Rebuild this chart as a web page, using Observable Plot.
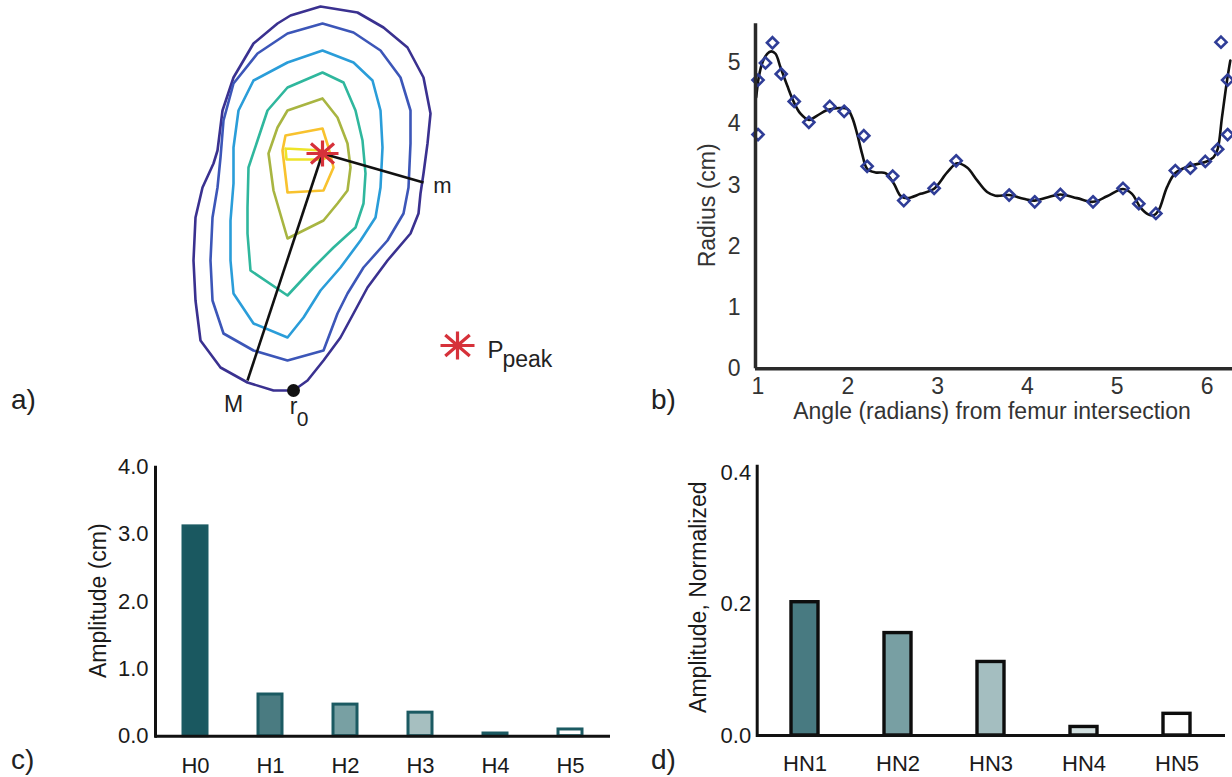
<!DOCTYPE html>
<html>
<head>
<meta charset="utf-8">
<script src="https://cdn.jsdelivr.net/npm/d3@7"></script>
<script src="https://cdn.jsdelivr.net/npm/@observablehq/plot@0.6"></script>
<style>
  body { margin: 0; background: #fff; }
  #fig { position: relative; width: 1232px; height: 777px; overflow: hidden; background: #fff;
         font-family: "Liberation Sans", Arial, Helvetica, sans-serif; }
  .panel { position: absolute; }
  .panel svg { display: block; }
  .plab { position: absolute; font-size: 28px; line-height: 28px; color: #222; }
  #pb g[aria-label$="tick label"] { font-size: 23px !important; }
  #pc g[aria-label$="tick label"], #pd g[aria-label$="tick label"] { font-size: 22px !important; }
</style>
</head>
<body>
<div id="fig"></div>
<script>
const FONT = '"Liberation Sans", Arial, Helvetica, sans-serif';

// ---------- Panel a: contour map (image units) ----------
const contourColors = ["#3a3190", "#3c56b8", "#2a9dd9", "#2fb79d", "#a8b541", "#f8c22e", "#eee428"];
const contour1 = [[290,15],[320,6],[357,12],[383,27],[407,47],[423,77],[430,113],[427,143],[423,173],[420,193],[418,213],[410,233],[387,260],[367,287],[353,313],[340,337],[323,360],[307,380],[293,390],[273,390],[247,382],[220,367],[200,340],[195,300],[193,260],[195,217],[202,187],[213,163],[217,150],[222,110],[233,77],[253,43],[277,23]];
const contour2 = [[322,23],[353,32],[380,50],[400,77],[410,110],[410,143],[408,187],[403,213],[387,240],[363,267],[347,293],[337,313],[323,350],[287,360],[253,350],[223,333],[212,300],[210,260],[212,217],[217,187],[220,157],[223,120],[233,83],[257,53],[287,33]];
const contour3 = [[322,50],[353,62],[372,80],[380,110],[382,147],[380,187],[375,217],[360,240],[340,267],[320,290],[303,317],[287,337],[253,323],[233,293],[230,260],[230,220],[233,183],[233,147],[238,110],[253,80],[287,62]];
const contour4 = [[322,72],[343,82],[355,110],[362,140],[365,173],[363,203],[355,227],[333,247],[313,267],[287,295],[250,270],[247,233],[247,207],[248,167],[257,140],[267,110],[287,87]];
const contour5 = [[322,98],[337,117],[347,143],[350,167],[347,190],[337,203],[323,220],[287,238],[273,190],[268,153],[277,127],[287,110]];
const contour6 = [[285,135],[322,128],[328,147],[333,167],[323,190],[287,192],[282,150]];
const contour7 = [[285,148],[322,150],[328,156],[322,159],[286,159]];
const contours = [contour1, contour2, contour3, contour4, contour5, contour6, contour7];
const peak = [322, 153];
const radiusEnds = [{label: "m", pt: [423, 182]}, {label: "M", pt: [247, 380]}];
const r0Point = [293, 390];
const legendStar = [457, 345];

// ---------- Panel b: radius vs angle ----------
const measAngle  = [1.00,1.00,1.083,1.161,1.258,1.403,1.566,1.799,1.959,2.178,2.215,2.50,2.623,2.961,3.206,3.796,4.081,4.367,4.73,5.064,5.24,5.43,5.647,5.814,5.98,6.118,6.155,6.229,6.229];
const measRadius = [3.83,4.72,5.00,5.33,4.82,4.37,4.03,4.29,4.21,3.81,3.31,3.15,2.75,2.95,3.40,2.84,2.73,2.85,2.73,2.95,2.70,2.54,3.24,3.28,3.39,3.59,5.34,4.72,3.83];
const fitAngle  = [0.98,1.009,1.047,1.102,1.147,1.195,1.25,1.325,1.399,1.473,1.566,1.659,1.77,1.881,1.993,2.048,2.104,2.16,2.215,2.308,2.419,2.512,2.586,2.661,2.809,2.957,3.106,3.217,3.328,3.44,3.551,3.643,3.796,3.958,4.081,4.218,4.367,4.552,4.73,4.886,5.064,5.164,5.257,5.35,5.406,5.461,5.554,5.647,5.814,5.98,6.073,6.118,6.166,6.222,6.259];
const fitRadius = [4.44,4.77,5.0,5.15,5.19,5.15,4.93,4.63,4.36,4.17,4.07,4.14,4.23,4.26,4.25,4.11,3.84,3.51,3.27,3.21,3.20,3.03,2.83,2.79,2.86,2.94,3.21,3.36,3.29,3.08,2.89,2.83,2.84,2.78,2.75,2.80,2.85,2.79,2.73,2.82,2.94,2.86,2.64,2.52,2.51,2.59,2.97,3.20,3.32,3.38,3.46,3.59,4.11,4.71,5.04];
const angleTicks = [1, 2, 3, 4, 5, 6];
const radiusTicks = [0, 1, 2, 3, 4, 5];

// ---------- Panel c: harmonic amplitudes ----------
const harmonics = ["H0", "H1", "H2", "H3", "H4", "H5"];
const amplitudes = [3.12, 0.62, 0.47, 0.35, 0.04, 0.10];
const harmonicFills = ["#1a5860", "#4a7b81", "#78a0a3", "#a6bfc0", "#cfdedf", "#ffffff"];
const amplitudeTicks = [0, 1, 2, 3, 4];

// ---------- Panel d: normalized amplitudes ----------
const normHarmonics = ["HN1", "HN2", "HN3", "HN4", "HN5"];
const normAmplitudes = [0.203, 0.156, 0.112, 0.013, 0.033];
const normFills = ["#487a81", "#789fa3", "#a4bec0", "#d2e0e0", "#ffffff"];
const normTicks = [0, 0.2, 0.4];

// ---------------------------------------------------------
const fig = document.getElementById("fig");
function place(node, left, top, id) {
  const div = document.createElement("div");
  div.className = "panel";
  div.id = id;
  div.style.left = left + "px";
  div.style.top = top + "px";
  div.appendChild(node);
  fig.appendChild(div);
}
function panelLabel(text, left, top) {
  const d = document.createElement("div");
  d.className = "plab";
  d.textContent = text;
  d.style.left = left + "px";
  d.style.top = top + "px";
  fig.appendChild(d);
}

// 8-armed asterisk symbol
const star8 = {
  draw(ctx, size) {
    const r = Math.sqrt(size / Math.PI);
    const v = r * 0.82, dx = r * 0.72, dy = r * 0.62;
    ctx.moveTo(-r, 0); ctx.lineTo(r, 0);
    ctx.moveTo(0, -v); ctx.lineTo(0, v);
    ctx.moveTo(-dx, -dy); ctx.lineTo(dx, dy);
    ctx.moveTo(-dx, dy); ctx.lineTo(dx, -dy);
  }
};

// ----- Panel a -----
const contourRows = contours.flatMap((c, i) => [...c, c[0]].map(([x, y]) => ({level: i, x, y})));
const plotA = Plot.plot({
  width: 640, height: 440, margin: 0,
  x: {domain: [0, 640], range: [0, 640], axis: null},
  y: {domain: [0, 440], range: [0, 440], axis: null},
  color: {type: "ordinal", domain: d3.range(contours.length), range: contourColors},
  style: {fontFamily: FONT, color: "#222", background: "transparent", overflow: "visible"},
  marks: [
    Plot.line(contourRows, {x: "x", y: "y", z: "level", stroke: "level", strokeWidth: 2.6, strokeLinejoin: "round"}),
    Plot.link(radiusEnds, {x1: () => peak[0], y1: () => peak[1], x2: d => d.pt[0], y2: d => d.pt[1], stroke: "#111", strokeWidth: 2.6}),
    Plot.dot([peak], {x: d => d[0], y: d => d[1], symbol: star8, r: 16, stroke: "#d6313a", strokeWidth: 3.2, fill: "none"}),
    Plot.dot([r0Point], {x: d => d[0], y: d => d[1], r: 6.5, fill: "#111", stroke: "none"}),
    Plot.text([radiusEnds[0]], {x: d => d.pt[0], y: d => d.pt[1], text: d => d.label, dx: 19, dy: 3, fontSize: 22, fill: "#222"}),
    Plot.text([radiusEnds[1]], {x: d => d.pt[0], y: d => d.pt[1], text: d => d.label, dx: -14, dy: 24.5, fontSize: 23, fill: "#222"}),
    Plot.text([r0Point], {x: d => d[0], y: d => d[1], text: () => "r", dx: 0, dy: 16, fontSize: 23, fill: "#222"}),
    Plot.text([r0Point], {x: d => d[0], y: d => d[1], text: () => "0", dx: 9, dy: 28.5, fontSize: 21, fill: "#222"}),
    Plot.dot([legendStar], {x: d => d[0], y: d => d[1], symbol: star8, r: 17, stroke: "#d6313a", strokeWidth: 3.2, fill: "none"}),
    Plot.text([legendStar], {x: d => d[0], y: d => d[1], text: () => "P", dx: 30, dy: 5, textAnchor: "start", fontSize: 24, fill: "#222"}),
    Plot.text([legendStar], {x: d => d[0], y: d => d[1], text: () => "peak", dx: 45, dy: 14, textAnchor: "start", fontSize: 23, fill: "#222"})
  ]
});
place(plotA, 0, 0, "pa");

// ----- Panel b -----
const measured = measAngle.map((a, i) => ({angle: a, radius: measRadius[i]}));
const fitted = fitAngle.map((a, i) => ({angle: a, radius: fitRadius[i]}));
const xMinB = 0.972;
const plotB = Plot.plot({
  width: 592, height: 430,
  marginLeft: 115, marginRight: 0, marginTop: 23.3, marginBottom: 61.7,
  x: {domain: [xMinB, 2 * Math.PI]},
  y: {domain: [0, 5.64]},
  style: {fontFamily: FONT, color: "#333", background: "transparent", overflow: "visible"},
  marks: [
    Plot.axisX({ticks: angleTicks, tickFormat: d3.format("d"), tickSize: 0, tickPadding: 9, label: null, fontSize: 23}),
    Plot.axisY({ticks: radiusTicks, tickFormat: d3.format("d"), tickSize: 0, tickPadding: 15, label: null, fontSize: 23}),
    Plot.line(fitted, {x: "angle", y: "radius", curve: "catmull-rom", stroke: "#111", strokeWidth: 2.6}),
    Plot.dot(measured, {x: "angle", y: "radius", symbol: "diamond2", r: 5, stroke: "#2f3d97", strokeWidth: 2.6, fill: "none"}),
    Plot.ruleX([xMinB], {stroke: "#2a2a2a", strokeWidth: 3.5}),
    Plot.ruleY([0], {stroke: "#2a2a2a", strokeWidth: 3.5}),
    Plot.text(["Radius (cm)"], {text: d => d, frameAnchor: "left", textAnchor: "middle", lineAnchor: "middle", rotate: -90, dx: -48, dy: 9, fontSize: 23, fill: "#333"}),
    Plot.text(["Angle (radians) from femur intersection"], {text: d => d, frameAnchor: "bottom", textAnchor: "middle", lineAnchor: "middle", dx: -2, dy: 43, fontSize: 23, fill: "#333"})
  ]
});
place(plotB, 640, 0, "pb");

// ----- Panel c -----
const harmonicRows = harmonics.map((h, i) => ({h, amp: amplitudes[i]}));
const plotC = Plot.plot({
  width: 620, height: 337,
  marginLeft: 155, marginRight: 10, marginTop: 26.7, marginBottom: 41.3,
  x: {domain: harmonics, paddingInner: 0.683, paddingOuter: 0.3415},
  y: {domain: [0, 4]},
  color: {type: "ordinal", domain: harmonics, range: harmonicFills},
  style: {fontFamily: FONT, color: "#1a1a1a", background: "transparent", overflow: "visible"},
  marks: [
    Plot.barY(harmonicRows, {x: "h", y: "amp", fill: "h", stroke: "#1b5a62", strokeWidth: 3}),
    Plot.axisX({tickSize: 0, tickPadding: 21, label: null, fontSize: 22}),
    Plot.axisY({ticks: amplitudeTicks, tickFormat: d3.format(".1f"), tickSize: 0, tickPadding: 7, label: null, fontSize: 22}),
    Plot.frame({anchor: "left", stroke: "#111", strokeWidth: 3}),
    Plot.ruleY([0], {stroke: "#111", strokeWidth: 3}),
    Plot.text(["Amplitude (cm)"], {text: d => d, frameAnchor: "left", textAnchor: "middle", lineAnchor: "middle", rotate: -90, dx: -56.7, dy: -1, fontSize: 23, fill: "#1a1a1a"})
  ]
});
place(plotC, 0, 440, "pc");

// ----- Panel d -----
const normRows = normHarmonics.map((h, i) => ({h, amp: normAmplitudes[i]}));
const plotD = Plot.plot({
  width: 592, height: 337,
  marginLeft: 116.7, marginRight: 7, marginTop: 25.8, marginBottom: 42,
  x: {domain: normHarmonics, paddingInner: 0.708, paddingOuter: 0.354},
  y: {domain: [0, 0.41]},
  color: {type: "ordinal", domain: normHarmonics, range: normFills},
  style: {fontFamily: FONT, color: "#1a1a1a", background: "transparent", overflow: "visible"},
  marks: [
    Plot.barY(normRows, {x: "h", y: "amp", fill: "h", stroke: "#0d0d0d", strokeWidth: 3.4}),
    Plot.axisX({tickSize: 0, tickPadding: 20, label: null, fontSize: 22}),
    Plot.axisY({ticks: normTicks, tickFormat: d3.format(".1f"), tickSize: 0, tickPadding: 6, label: null, fontSize: 22}),
    Plot.frame({anchor: "left", stroke: "#111", strokeWidth: 3}),
    Plot.ruleY([0], {stroke: "#111", strokeWidth: 3}),
    Plot.text(["Amplitude, Normalized"], {text: d => d, frameAnchor: "left", textAnchor: "middle", lineAnchor: "middle", rotate: -90, dx: -58.4, dy: -3.7, fontSize: 23, fill: "#1a1a1a"})
  ]
});
place(plotD, 640, 440, "pd");

// panel letters
panelLabel("a)", 11, 386);
panelLabel("b)", 651, 386);
panelLabel("c)", 11, 746);
panelLabel("d)", 651, 746);
</script>
</body>
</html>
